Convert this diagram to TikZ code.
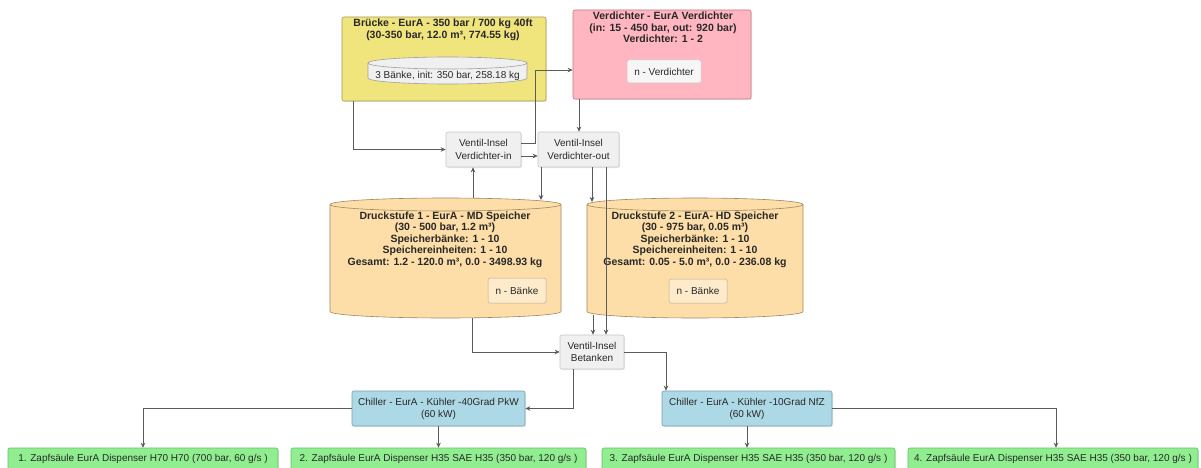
\documentclass[tikz,border=0pt]{standalone}
\usepackage{fontspec}
\setmainfont{Liberation Sans}
\usetikzlibrary{arrows.meta,shadows}
\definecolor{ybfill}{RGB}{240,228,125}
\definecolor{ybdraw}{RGB}{165,155,80}
\definecolor{pkfill}{RGB}{255,182,193}
\definecolor{pkdraw}{RGB}{190,120,130}
\definecolor{cyfill}{RGB}{253,222,168}
\definecolor{cydraw}{RGB}{160,135,95}
\definecolor{vtfill}{RGB}{240,240,240}
\definecolor{vtdraw}{RGB}{200,200,200}
\definecolor{chfill}{RGB}{173,216,230}
\definecolor{chdraw}{RGB}{120,160,175}
\definecolor{grfill}{RGB}{144,238,144}
\definecolor{grdraw}{RGB}{100,190,100}
\definecolor{linec}{RGB}{90,90,90}
\definecolor{txtc}{RGB}{40,40,40}
\newcommand\drawcyl[6]{%
  \path[#6] (#1-#4,#2+#5) -- (#1-#4,#3-#5)
    arc[start angle=180,end angle=360,x radius=#4pt,y radius=#5pt]
    -- (#1+#4,#2+#5)
    arc[start angle=0,end angle=180,x radius=#4pt,y radius=#5pt] -- cycle;
  \path[#6,fill=none] (#1-#4,#2+#5)
    arc[start angle=180,end angle=360,x radius=#4pt,y radius=#5pt];
}
\tikzset{
  basebox/.style={rounded corners=2pt, line width=0.6pt, inner sep=0pt, drop shadow={opacity=0.18, shadow xshift=1pt, shadow yshift=-1pt}},
  ybox/.style={basebox, draw=ybdraw, fill=ybfill},
  pbox/.style={basebox, draw=pkdraw, fill=pkfill},
  vbox/.style={basebox, draw=vtdraw, fill=vtfill, text=txtc, font=\fontsize{10}{12.5}\selectfont, align=center},
  cbox/.style={basebox, draw=chdraw, fill=chfill, text=txtc, font=\fontsize{10}{12}\selectfont, align=center},
  gbox/.style={basebox, draw=grdraw, fill=grfill, text=txtc, font=\fontsize{10}{12}\selectfont},
  ibox/.style={rounded corners=1.5pt, line width=0.5pt, draw=vtdraw, fill=vtfill!60!white, text=txtc, font=\fontsize{10}{12}\selectfont, inner sep=0pt},
  title/.style={text=txtc, font=\bfseries\fontsize{10.5}{11.5}\selectfont, align=center, inner sep=0pt},
  region/.style={draw=none, inner sep=0pt},
  arr/.style={draw=linec, line width=0.8pt, -{Stealth[length=5pt,width=4.5pt]}},
  cyl/.style={draw=cydraw, fill=cyfill, line width=0.6pt},
  icyl/.style={draw=vtdraw!80!black, fill=vtfill, line width=0.6pt},
}
\begin{document}
\begin{tikzpicture}[x=1pt,y=-1pt]
\useasboundingbox (0,0) rectangle (1201,468);
\fill[white] (0,0) rectangle (1201,468);

% Bruecke
\node[ybox, minimum width=204pt, minimum height=84pt] (bruecke) at (444,59) {};
\node[title] (bruecketxt) at (443,30) {Brücke - EurA - 350 bar / 700 kg 40ft\\(30-350 bar, 12.0 m³, 774.55 kg)};
\drawcyl{447.5}{57}{84}{79.5}{6}{icyl}
\node[region, minimum width=159pt, minimum height=27pt, text=txtc, font=\fontsize{10}{12}\selectfont] (baenke3) at (447.5,76) {3 Bänke, init: 350 bar, 258.18 kg};

% Verdichter
\node[pbox, minimum width=178pt, minimum height=89pt] (verd) at (662,54.5) {};
\node[title] (verdtxt) at (663,27.5) {Verdichter - EurA Verdichter\\(in: 15 - 450 bar, out: 920 bar)\\Verdichter: 1 - 2};
\node[ibox, minimum width=74pt, minimum height=23pt] (nverd) at (664,71.5) {n - Verdichter};

% Ventil-Inseln
\node[vbox, minimum width=75pt, minimum height=35pt] (vin) at (483.5,149.5) {Ventil-Insel\\Verdichter-in};
\node[vbox, minimum width=81pt, minimum height=35pt] (vout) at (578.5,149.5) {Ventil-Insel\\Verdichter-out};

% Cylinders
\drawcyl{445.5}{198}{318}{115.5}{6.5}{cyl}
\node[region, minimum width=231pt, minimum height=120pt] (ds1) at (445.5,258) {};
\node[title] (ds1txt) at (445,239.5) {Druckstufe 1 - EurA - MD Speicher\\(30 - 500 bar, 1.2 m³)\\Speicherbänke: 1 - 10\\Speichereinheiten: 1 - 10\\Gesamt: 1.2 - 120.0 m³, 0.0 - 3498.93 kg};
\node[ibox, draw=cydraw!70, fill=cyfill!60!white, minimum width=58pt, minimum height=25pt] (nb1) at (517,290.5) {n - Bänke};

\drawcyl{695}{198}{318}{108}{6.5}{cyl}
\node[region, minimum width=216pt, minimum height=120pt] (ds2) at (695,258) {};
\node[title] (ds2txt) at (695,239.5) {Druckstufe 2 - EurA- HD Speicher\\(30 - 975 bar, 0.05 m³)\\Speicherbänke: 1 - 10\\Speichereinheiten: 1 - 10\\Gesamt: 0.05 - 5.0 m³, 0.0 - 236.08 kg};
\node[ibox, draw=cydraw!70, fill=cyfill!60!white, minimum width=58pt, minimum height=24pt] (nb2) at (698,291) {n - Bänke};

% Betanken
\node[vbox, minimum width=64pt, minimum height=34pt] (bet) at (592,352) {Ventil-Insel\\Betanken};

% Chiller
\node[cbox, minimum width=173pt, minimum height=35pt] (ch1) at (438.5,408.5) {Chiller - EurA - Kühler -40Grad PkW\\(60 kW)};
\node[cbox, minimum width=170pt, minimum height=35pt] (ch2) at (747,408.5) {Chiller - EurA - Kühler -10Grad NfZ\\(60 kW)};

% Zapfsaeulen
\node[gbox, minimum width=270pt, minimum height=22pt] (z1) at (143,459) {1. Zapfsäule EurA Dispenser H70 H70 (700 bar, 60 g/s )};
\node[gbox, minimum width=295pt, minimum height=22pt] (z2) at (438.5,459) {2. Zapfsäule EurA Dispenser H35 SAE H35 (350 bar, 120 g/s )};
\node[gbox, minimum width=293pt, minimum height=22pt] (z3) at (748.5,459) {3. Zapfsäule EurA Dispenser H35 SAE H35 (350 bar, 120 g/s )};
\node[gbox, minimum width=290pt, minimum height=22pt] (z4) at (1053,459) {4. Zapfsäule EurA Dispenser H35 SAE H35 (350 bar, 120 g/s )};

% routing coordinates
\coordinate (xa) at (353,0);
\coordinate (k2) at (535,70);
\coordinate (xc1up) at (473,198);
\coordinate (xo1) at (541,200);
\coordinate (xo2) at (592,202);
\coordinate (xo3) at (606,0);
\coordinate (xc2dn) at (593,315);
\coordinate (xc1dn) at (472,318);
\coordinate (k11) at (666,0);
\coordinate (xbs) at (573,0);
\coordinate (xz1) at (143,0);
\coordinate (xz4) at (1056,0);
\coordinate (xv) at (579,0);

% connectors
\draw[arr] (bruecke.south -| xa) |- (vin.west);
\draw[arr] ([yshift=6.5pt]vin.east) -| (k2) -- (k2 -| verd.west);
\draw[arr] ([yshift=-6.5pt]vin.east) -- ([yshift=-6.5pt]vin.east -| vout.west);
\draw[arr] (verd.south -| xv) -- (vout.north -| xv);
\draw[arr] (xc1up) -- (xc1up |- vin.south);
\draw[arr] (vout.south -| xo1) -- (xo1);
\draw[arr] (vout.south -| xo2) -- (xo2);
\draw[arr] (vout.south -| xo3) -- (bet.north -| xo3);
\draw[arr] (xc2dn) -- (bet.north -| xc2dn);
\draw[arr] (xc1dn) |- (bet.west);
\draw[arr] (bet.east) -| (ch2.north -| k11);
\draw[arr] (bet.south -| xbs) |- (ch1.east);
\draw[arr] (ch1.west) -| (z1.north -| xz1);
\draw[arr] (ch1.south) -- (z2.north -| ch1.south);
\draw[arr] (ch2.south) -- (z3.north -| ch2.south);
\draw[arr] (ch2.east) -| (z4.north -| xz4);
\end{tikzpicture}
\end{document}
